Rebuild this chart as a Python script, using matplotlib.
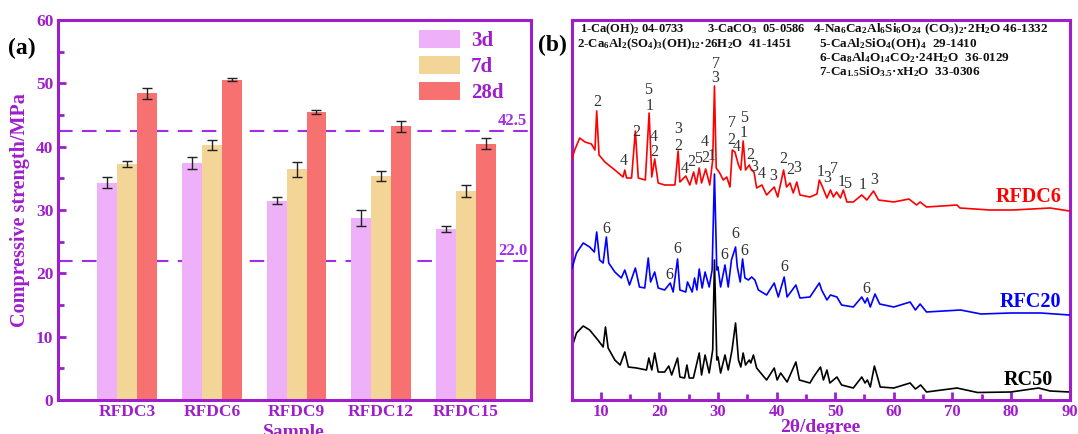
import matplotlib
matplotlib.use("Agg")
import matplotlib.pyplot as plt
import numpy as np

plt.rcParams['font.family'] = ['Liberation Serif', 'DejaVu Serif']
plt.rcParams['mathtext.fontset'] = 'custom'
plt.rcParams['mathtext.rm'] = 'Liberation Serif:bold'
plt.rcParams['mathtext.it'] = 'Liberation Serif:italic:bold'
plt.rcParams['mathtext.bf'] = 'Liberation Serif:bold'
plt.rcParams['mathtext.default'] = 'rm'

# ---------------- data: panel (a) ----------------
samples = ["RFDC3", "RFDC6", "RFDC9", "RFDC12", "RFDC15"]
ages = ["3d", "7d", "28d"]
strength_3d = [34.3, 37.4, 31.5, 28.7, 27.0]
strength_7d = [37.3, 40.2, 36.4, 35.4, 33.0]
strength_28d = [48.4, 50.6, 45.5, 43.2, 40.5]
err_3d = [0.9, 1.0, 0.6, 1.3, 0.5]
err_7d = [0.5, 0.8, 1.2, 0.8, 0.9]
err_28d = [0.8, 0.2, 0.3, 0.9, 0.8]
ref_levels = [42.5, 22.0]

# ---------------- data: panel (b) XRD ----------------
two_theta_rfdc6 = [5.0, 5.55, 6.4, 7.3, 8.4, 9.0, 9.3, 9.7, 10.7, 12.4, 13.8, 14.1, 14.4, 15.25, 15.9, 16.4,
                   17.6, 18.25, 18.7, 19.2, 19.8, 20.9, 22.65, 23.2, 23.5, 24.5, 25.2, 25.85, 26.3, 26.8, 27.2,
                   27.9, 28.6, 29.1, 29.4, 29.7, 30.3, 30.9, 31.5, 32.05, 32.45, 32.9, 33.5, 33.9, 34.3, 34.7,
                   35.35, 35.7, 36.15, 36.6, 37.5, 38.3, 39.6, 40.2, 41.2, 41.7, 42.3, 42.85, 43.45, 44.0, 45.7,
                   46.9, 47.3, 47.7, 48.6, 49.2, 49.7, 50.25, 50.9, 51.4, 52.0, 53.1, 54.55, 55.4, 56.55, 57.4,
                   60.0, 62.6, 63.9, 64.5, 65.6, 70.8, 71.3, 76.4, 80.4, 86.7, 90.0]
int_rfdc6 = [60, 70, 82, 78, 76, 70, 109, 65, 58, 50, 43, 50, 42, 42, 89, 42,
             40, 107, 43, 61, 37, 35, 35, 69, 38, 44, 35, 48, 36, 52, 37,
             51, 35, 60, 134, 52, 47, 40, 43, 33, 70, 68, 55, 50, 79, 50,
             55, 50, 48, 32, 35, 25, 33, 23, 50, 33, 37, 27, 38, 25, 23,
             26, 40, 35, 22, 30, 23, 28, 22, 30, 18, 18, 25, 20, 29, 20,
             18, 21, 15, 18, 13, 15, 12, 10, 10, 12, 9]

two_theta_rfc20 = [5.1, 5.85, 7.0, 8.1, 8.9, 9.3, 9.8, 10.4, 10.95, 11.35, 12.4, 13.5, 14.1, 14.9, 15.9, 16.6,
                   17.5, 18.1, 18.5, 19.2, 19.8, 20.9, 21.85, 22.35, 23.1, 23.5, 24.5, 24.8, 25.6, 26.0, 26.4,
                   26.8, 27.3, 27.8, 28.5, 29.0, 29.4, 29.8, 30.0, 30.45, 31.2, 31.75, 32.3, 33.0, 33.3, 33.8,
                   34.2, 34.6, 35.2, 35.75, 36.3, 36.9, 38.3, 39.6, 40.3, 41.3, 41.8, 43.3, 44.0, 45.7, 47.3,
                   47.7, 48.6, 49.2, 50.3, 51.1, 53.1, 54.55, 55.1, 55.5, 56.0, 56.8, 57.6, 60.0, 62.8, 63.7,
                   64.5, 65.6, 71.4, 74.9, 80.0, 85.1, 90.0]
int_rfc20 = [52, 67, 77, 73, 68, 88, 60, 57, 83, 57, 48, 42, 50, 35, 52, 33,
             32, 62, 38, 48, 32, 30, 37, 28, 61, 30, 28, 38, 28, 42, 30,
             51, 32, 48, 33, 50, 146, 50, 53, 33, 55, 33, 60, 73, 53, 38,
             61, 42, 40, 43, 40, 30, 25, 37, 23, 43, 23, 35, 22, 23, 37,
             30, 20, 25, 23, 15, 13, 23, 17, 22, 13, 26, 16, 13, 18, 10,
             16, 8, 10, 6, 7, 7, 5]

two_theta_rc50 = [5.1, 5.85, 7.0, 8.1, 9.5, 10.4, 10.8, 11.25, 12.4, 13.3, 14.1, 14.7, 16.1, 17.8, 18.2, 18.7,
                  19.2, 19.8, 20.9, 21.6, 22.1, 23.1, 23.5, 24.3, 24.7, 25.1, 25.8, 26.8, 27.2, 27.8, 28.5,
                  29.1, 29.4, 29.8, 30.0, 30.45, 31.2, 31.75, 32.4, 33.0, 33.5, 33.9, 34.3, 34.7, 35.35, 35.6,
                  36.05, 36.6, 37.3, 38.3, 39.6, 40.1, 40.7, 41.8, 43.3, 43.9, 45.7, 46.3, 47.5, 48.0, 48.6,
                  49.1, 50.3, 51.1, 53.1, 54.55, 55.1, 55.5, 56.0, 56.7, 57.7, 60.0, 62.8, 63.7, 64.6, 65.6,
                  70.8, 74.3, 80.0, 84.7, 86.7, 90.0]
int_rc50 = [53, 67, 74, 70, 60, 53, 73, 52, 40, 35, 48, 33, 32, 30, 42, 30,
            47, 28, 28, 34, 25, 42, 23, 22, 35, 22, 22, 47, 25, 45, 27,
            50, 140, 40, 43, 27, 45, 30, 50, 77, 40, 33, 47, 35, 40, 37,
            45, 32, 27, 20, 32, 20, 27, 18, 38, 20, 17, 23, 33, 20, 30,
            17, 23, 15, 12, 23, 17, 20, 13, 34, 13, 12, 17, 11, 15, 8,
            12, 7.5, 8, 12, 9, 8]

pattern_names = ["RFDC6", "RFC20", "RC50"]
pattern_offsets = [180, 80, 0]

phase_list = [
    r"1-Ca(OH)$_2$ 04-0733",
    r"3-CaCO$_3$  05-0586",
    r"2-Ca$_6$Al$_2$(SO$_4$)$_3$(OH)$_{12}$·26H$_2$O  41-1451",
    r"4-Na$_6$Ca$_2$Al$_6$Si$_6$O$_{24}$ (CO$_3$)$_2$·2H$_2$O 46-1332",
    r"5-CaAl$_2$SiO$_4$(OH)$_4$  29-1410",
    r"6-Ca$_8$Al$_4$O$_{14}$CO$_2$·24H$_2$O  36-0129",
    r"7-Ca$_{1.5}$SiO$_{3.5}$·xH$_2$O  33-0306",
]

# peak markers: (2theta, height, phase number)
peak_marks_rfdc6 = [(9.44, 298, "2"), (13.98, 239, "4"), (15.98, 268, "2"), (18.09, 310, "5"), (18.26, 294, "1"),
                    (19.11, 263, "4"), (19.11, 248, "2"), (23.21, 271, "3"), (23.21, 254, "2"), (24.36, 231, "4"),
                    (25.5, 238, "2"), (26.63, 241, "5"), (27.78, 242, "2"), (27.66, 258, "4"), (28.92, 244, "1"),
                    (29.6, 336, "7"), (29.49, 322, "3"), (32.34, 277, "7"), (32.34, 260, "2"), (33.2, 253, "4"),
                    (34.5, 282, "5"), (34.32, 267, "1"), (35.47, 245, "2"), (36.2, 233, "3"), (37.47, 226, "4"),
                    (39.45, 224, "3"), (41.06, 241, "2"), (42.31, 230, "2"), (43.56, 232, "3"), (47.56, 228, "1"),
                    (48.58, 222, "3"), (49.88, 231, "7"), (51.03, 218, "1"), (52.0, 216, "5"), (54.74, 215, "1"),
                    (56.67, 220, "3")]
peak_marks_rfc20 = [(10.97, 171, "6"), (23.11, 151, "6"), (21.62, 125, "6"), (31.03, 145, "6"),
                    (33.03, 166, "6"), (34.5, 149, "6"), (41.28, 133, "6"), (55.25, 111, "6")]

# ---------------- style ----------------
PURPLE = '#9E1ECC'
DASH = '#A12EE6'
bar_colors = ['#EDB0F9', '#F2D597', '#F87171']
line_colors = ['#FF0000', '#0000FF', '#000000']

fig = plt.figure(figsize=(10.78, 4.34), dpi=100)
W, H = 1078, 434

def px_axes(l, r, t, b):
    return fig.add_axes([l / W, 1 - b / H, (r - l) / W, (b - t) / H])

# ---------------- panel (a) ----------------
ax = px_axes(57.5, 531, 20, 400)
x = np.arange(len(samples))
bw = 0.236
for i, (vals, errs) in enumerate([(strength_3d, err_3d), (strength_7d, err_7d), (strength_28d, err_28d)]):
    ax.bar(x + (i - 1) * bw, vals, bw, color=bar_colors[i], edgecolor='none',
           label=ages[i], zorder=2)
    ax.errorbar(x + (i - 1) * bw, vals, yerr=errs, fmt='none', ecolor='#222222', elinewidth=1.0,
                capsize=3.5, capthick=1.0, zorder=3)
for lv in ref_levels:
    ax.axhline(lv, color=DASH, lw=1.5, ls=(0, (7, 4.5)), zorder=1)
    ax.text(4.73, lv + 0.3, f"{lv:.1f}", color=DASH, fontsize=12, fontweight='bold',
            ha='right', va='bottom')
ax.set_xlim(-0.827, 4.773)
ax.set_ylim(0, 60)
ax.set_xticks(x)
ax.set_xticklabels(samples)
ax.set_yticks(np.arange(0, 61, 10))
ax.set_yticks(np.arange(5, 60, 10), minor=True)
for s in ax.spines.values():
    s.set_color(PURPLE)
    s.set_linewidth(2.2)
ax.tick_params(axis='both', which='both', direction='in', colors=PURPLE, width=2,
               labelsize=12.5)
ax.tick_params(axis='both', which='major', length=6, pad=3)
ax.tick_params(axis='both', which='minor', length=4)
for lab in ax.get_xticklabels() + ax.get_yticklabels():
    lab.set_fontweight('bold')
    lab.set_color(PURPLE)
ax.set_ylabel("Compressive strength/MPa", color=PURPLE, fontsize=14.5, fontweight='bold', labelpad=4)
ax.set_xlabel("Sample", color=PURPLE, fontsize=14, fontweight='bold', labelpad=3)
leg = ax.legend(loc='upper left', bbox_to_anchor=(0.763, 0.975), frameon=False,
                prop={'family': 'Liberation Serif', 'weight': 'bold', 'size': 15},
                handlelength=2.0, handleheight=1.0, handletextpad=0.5, labelspacing=0.22,
                borderpad=0, borderaxespad=0, labelcolor=PURPLE)
fig.text(8 / W, 1 - 48 / H, "(a)", fontsize=17, fontweight='bold', va='center', ha='left')

# ---------------- panel (b) ----------------
bx = px_axes(571.5, 1069.5, 20, 400)
series = [(two_theta_rfdc6, int_rfdc6), (two_theta_rfc20, int_rfc20), (two_theta_rc50, int_rc50)]
zorders = [3, 4, 2]
for (tt, ii), off, c, z in zip(series, pattern_offsets, line_colors, zorders):
    bx.plot(tt, np.array(ii) + off, color=c, lw=1.2, zorder=z)
for tt, vv, s in peak_marks_rfdc6 + peak_marks_rfc20:
    bx.text(tt, vv, s, fontsize=11.5, color='#333333', ha='center', va='center', zorder=6)
name_pos = [(88.7, 203), (88.5, 98), (87.2, 20)]
for name, (tx, ty), c in zip(pattern_names, name_pos, line_colors):
    bx.text(tx, ty, name, color=c, fontsize=14.5, fontweight='bold', ha='right', va='center')

phase_pos = [(6.53, 371), (28.07, 371), (5.95, 356), (46.29, 371), (47.32, 356), (47.32, 342), (47.32, 328)]
phase_size = [9.0, 9.0, 9.3, 9.5, 9.5, 9.5, 9.5]
for txt, (tx, ty), fs in zip(phase_list, phase_pos, phase_size):
    bx.text(tx, ty, txt, fontsize=fs, fontweight='bold', ha='left', va='center', color='#111111')

bx.set_xlim(5, 90)
bx.set_ylim(0, 380)
bx.set_yticks([])
bx.set_xticks(np.arange(10, 91, 10))
bx.set_xticks(np.arange(15, 90, 10), minor=True)
for s in bx.spines.values():
    s.set_color(PURPLE)
    s.set_linewidth(2.2)
bx.tick_params(axis='x', which='both', direction='in', colors=PURPLE, width=2, labelsize=12)
bx.tick_params(axis='x', which='major', length=6, pad=3)
bx.tick_params(axis='x', which='minor', length=4)
for lab in bx.get_xticklabels():
    lab.set_fontweight('bold')
    lab.set_color(PURPLE)
bx.set_xlabel("2θ/degree", color=PURPLE, fontsize=14, fontweight='bold', labelpad=-1)
fig.text(538 / W, 1 - 45 / H, "(b)", fontsize=17, fontweight='bold', va='center', ha='left')

fig.savefig("out.png", dpi=100)
